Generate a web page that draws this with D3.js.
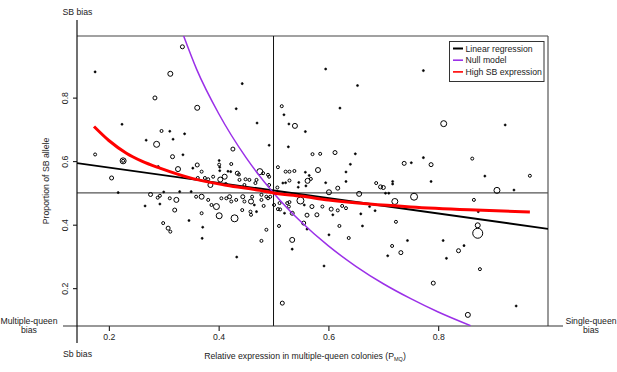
<!DOCTYPE html>
<html>
<head>
<meta charset="utf-8">
<script src="https://cdnjs.cloudflare.com/ajax/libs/d3/7.8.5/d3.min.js"></script>
<style>
  html, body { margin: 0; padding: 0; background: #fff; }
  svg { display: block; font-family: "Liberation Sans", Arial, Helvetica, sans-serif; }
</style>
</head>
<body>
<svg id="chart" width="617" height="372"></svg>
<script>
// ---------- DATA ----------
const xDomain = [0.142, 1.0];
const yDomain = [0.081, 0.994];
const xTicks = [0.2, 0.4, 0.6, 0.8];
const yTicks = [0.2, 0.4, 0.6, 0.8];
const neutralValue = 0.5;

// genes: [relative expression in MQ colonies, proportion of SB allele, relative weight]
const genes = [
  [0.175,0.881,1],[0.312,0.875,4],[0.334,0.960,3],[0.284,0.799,3],[0.361,0.768,4],
  [0.224,0.716,1],[0.296,0.695,2],[0.311,0.694,1],[0.317,0.669,1],[0.338,0.686,1],
  [0.268,0.666,1],[0.287,0.653,5],[0.443,0.844,1],[0.432,0.765,1],[0.470,0.720,1],
  [0.492,0.650,1],[0.426,0.638,3],[0.595,0.890,1],[0.773,0.885,1],[0.653,0.838,1],
  [0.515,0.773,2],[0.519,0.746,1],[0.621,0.767,1],[0.528,0.717,1],[0.539,0.711,4],
  [0.558,0.693,1],[0.810,0.718,5],[0.922,0.714,1],[0.527,0.645,1],[0.571,0.622,2],
  [0.585,0.623,2],[0.612,0.627,3],[0.649,0.623,1],[0.640,0.590,1],[0.738,0.593,3],
  [0.751,0.595,1],[0.773,0.611,1],[0.787,0.589,3],[0.862,0.608,2],[0.508,0.581,2],
  [0.522,0.567,2],[0.529,0.567,2],[0.538,0.569,2],[0.558,0.565,1],[0.565,0.555,1],
  [0.581,0.572,4],[0.632,0.566,1],[0.885,0.553,1],[0.967,0.554,2],[0.907,0.508,5],
  [0.938,0.509,1],[0.517,0.531,1],[0.522,0.532,1],[0.529,0.539,2],[0.546,0.533,1],
  [0.562,0.538,4],[0.568,0.544,2],[0.595,0.532,1],[0.617,0.515,3],[0.632,0.536,1],
  [0.687,0.531,2],[0.695,0.519,3],[0.700,0.517,3],[0.717,0.536,1],[0.717,0.528,1],
  [0.787,0.536,1],[0.704,0.499,1],[0.710,0.499,1],[0.656,0.497,4],[0.756,0.488,6],
  [0.721,0.473,5],[0.865,0.478,2],[0.873,0.441,1],[0.872,0.398,4],[0.872,0.373,9],
  [0.549,0.476,6],[0.529,0.471,2],[0.511,0.468,2],[0.508,0.449,2],[0.512,0.448,2],
  [0.528,0.457,2],[0.534,0.436,3],[0.520,0.436,1],[0.561,0.430,3],[0.579,0.431,3],
  [0.570,0.457,3],[0.589,0.457,2],[0.605,0.449,3],[0.617,0.445,2],[0.608,0.431,1],
  [0.632,0.452,2],[0.659,0.434,1],[0.675,0.457,1],[0.685,0.444,1],[0.723,0.409,2],
  [0.510,0.396,2],[0.555,0.405,3],[0.561,0.386,1],[0.620,0.396,2],[0.662,0.396,1],
  [0.534,0.352,4],[0.534,0.323,1],[0.601,0.368,1],[0.637,0.358,2],[0.744,0.350,1],
  [0.809,0.350,1],[0.847,0.334,1],[0.837,0.318,3],[0.716,0.333,2],[0.732,0.312,3],
  [0.708,0.302,1],[0.815,0.294,1],[0.592,0.270,1],[0.876,0.260,2],[0.791,0.216,3],
  [0.942,0.144,1],[0.854,0.116,4],[0.433,0.298,1],[0.516,0.153,3],
  [0.175,0.621,2],[0.226,0.601,5],[0.226,0.601,2],[0.205,0.547,3],[0.217,0.501,1],
  [0.316,0.614,3],[0.335,0.620,1],[0.290,0.583,1],[0.326,0.575,4],[0.276,0.495,3],
  [0.289,0.485,2],[0.311,0.483,2],[0.323,0.478,4],[0.300,0.503,1],[0.266,0.459,1],
  [0.293,0.465,1],[0.320,0.446,3],[0.299,0.405,2],[0.308,0.389,3],[0.312,0.378,2],
  [0.346,0.413,1],[0.371,0.392,1],[0.370,0.357,1],[0.329,0.504,1],[0.350,0.504,1],
  [0.361,0.588,3],[0.369,0.567,2],[0.353,0.578,1],[0.381,0.543,2],[0.385,0.525,4],
  [0.390,0.551,2],[0.401,0.602,1],[0.401,0.589,2],[0.402,0.570,1],[0.411,0.551,4],
  [0.413,0.528,2],[0.423,0.591,2],[0.422,0.567,1],[0.434,0.562,3],[0.438,0.541,2],
  [0.449,0.543,2],[0.456,0.541,2],[0.469,0.541,2],[0.475,0.567,5],[0.481,0.562,2],
  [0.490,0.557,2],[0.467,0.531,2],[0.447,0.525,2],[0.359,0.488,2],[0.369,0.488,4],
  [0.381,0.478,2],[0.387,0.462,2],[0.396,0.457,5],[0.401,0.428,5],[0.405,0.483,2],
  [0.414,0.483,2],[0.420,0.488,3],[0.423,0.473,2],[0.429,0.420,6],[0.432,0.478,2],
  [0.444,0.488,3],[0.443,0.446,2],[0.447,0.473,2],[0.459,0.473,4],[0.461,0.488,2],
  [0.465,0.462,1],[0.478,0.478,2],[0.478,0.494,2],[0.487,0.488,2],[0.482,0.459,2],
  [0.490,0.483,2],[0.458,0.441,2],[0.469,0.441,1],[0.459,0.431,2],[0.487,0.384,2],
  [0.478,0.349,2],[0.492,0.551,2],[0.492,0.525,2],[0.507,0.517,2],[0.545,0.518,1],
  [0.559,0.522,1],[0.601,0.502,4],[0.494,0.488,2],[0.501,0.462,2],[0.525,0.468,2],
  [0.556,0.462,1],[0.625,0.459,2],[0.362,0.547,2],[0.375,0.547,2],[0.403,0.542,4],
  [0.437,0.558,2],[0.417,0.568,1],[0.402,0.581,1],[0.369,0.436,2],[0.293,0.491,2]
];

// Linear regression (read at the plot edges)
const regX = [0.142, 1.0];
const regY = [0.594, 0.387];

// Null model curve
const nullX = [0.335, 0.36, 0.4, 0.45, 0.5, 0.55, 0.6, 0.65, 0.7, 0.75, 0.8, 0.859];
const nullY = [1.0, 0.889, 0.75, 0.611, 0.5, 0.409, 0.333, 0.269, 0.214, 0.167, 0.125, 0.082];

// High SB expression curve
const highX = [0.173, 0.2, 0.232, 0.26, 0.293, 0.353, 0.414, 0.475, 0.5, 0.55, 0.6, 0.675, 0.75, 0.856, 0.967];
const highY = [0.709, 0.665, 0.625, 0.600, 0.578, 0.545, 0.524, 0.508, 0.500, 0.490, 0.478, 0.465, 0.456, 0.447, 0.440];

const legendItems = ["Linear regression", "Null model", "High SB expression"];
const legendColors = ["#000000", "#9b30e8", "#ff0000"];

// ---------- DRAW ----------
const svg = d3.select("#chart");
const pL = 77, pR = 548, pT = 36, pB = 326;
const x = d3.scaleLinear().domain(xDomain).range([pL, pR]);
const y = d3.scaleLinear().domain(yDomain).range([pB, pT]);
const rScale = d3.scaleLinear().domain([1, 10]).range([1, 5.5]);
const fs = 8.7;

svg.append("defs").append("clipPath").attr("id", "clip")
  .append("rect").attr("x", pL).attr("y", pT).attr("width", pR - pL).attr("height", pB - pT);

// frame lines
svg.append("line").attr("x1", pL).attr("x2", pR).attr("y1", pT).attr("y2", pT)
  .attr("stroke", "#444").attr("stroke-width", 1.2);
svg.append("line").attr("x1", pR).attr("x2", pR).attr("y1", pT).attr("y2", pB)
  .attr("stroke", "#555").attr("stroke-width", 1.2);
// neutral lines
svg.append("line").attr("x1", pL).attr("x2", pR).attr("y1", y(neutralValue)).attr("y2", y(neutralValue))
  .attr("stroke", "#555").attr("stroke-width", 1.2);
svg.append("line").attr("x1", x(neutralValue)).attr("x2", x(neutralValue)).attr("y1", pT).attr("y2", pB)
  .attr("stroke", "#111").attr("stroke-width", 1);

// axes
const xAxis = svg.append("g").attr("transform", `translate(0,${pB})`)
  .call(d3.axisBottom(x).tickValues(xTicks).tickSize(5).tickPadding(3).tickFormat(d3.format(".1f")));
xAxis.select(".domain").remove();
xAxis.selectAll("text").attr("font-size", fs).attr("fill", "#222").attr("font-family", "Liberation Sans, Arial, sans-serif");
svg.append("line").attr("x1", 63).attr("x2", 563).attr("y1", pB).attr("y2", pB)
  .attr("stroke", "#333").attr("stroke-width", 1.2);

const yAxis = svg.append("g").attr("transform", `translate(${pL},0)`)
  .call(d3.axisLeft(y).tickValues(yTicks).tickSize(4).tickFormat(d3.format(".1f")));
yAxis.select(".domain").remove();
yAxis.selectAll("text").attr("font-size", fs).attr("fill", "#222")
  .attr("font-family", "Liberation Sans, Arial, sans-serif")
  .attr("x", null).attr("dy", null).attr("text-anchor", "middle")
  .attr("transform", "translate(-9,0) rotate(-90)");
svg.append("line").attr("x1", pL).attr("x2", pL).attr("y1", 20).attr("y2", 343)
  .attr("stroke", "#111").attr("stroke-width", 1.2);

// points
svg.append("g").selectAll("circle").data(genes).join("circle")
  .attr("cx", d => x(d[0])).attr("cy", d => y(d[1]))
  .attr("r", d => d[2] === 1 ? 1.05 : rScale(d[2]))
  .attr("fill", d => d[2] === 1 ? "#000" : "none")
  .attr("stroke", "#000").attr("stroke-width", d => d[2] === 1 ? 0.6 : 1);

const plot = svg.append("g").attr("clip-path", "url(#clip)");
// regression
plot.append("path").datum(d3.zip(regX, regY))
  .attr("d", d3.line().x(d => x(d[0])).y(d => y(d[1])))
  .attr("fill", "none").attr("stroke", legendColors[0]).attr("stroke-width", 1.8);
// null model
plot.append("path").datum(d3.zip(nullX, nullY))
  .attr("d", d3.line().x(d => x(d[0])).y(d => y(d[1])).curve(d3.curveMonotoneX))
  .attr("fill", "none").attr("stroke", legendColors[1]).attr("stroke-width", 1.5);
// high SB expression
plot.append("path").datum(d3.zip(highX, highY))
  .attr("d", d3.line().x(d => x(d[0])).y(d => y(d[1])).curve(d3.curveMonotoneX))
  .attr("fill", "none").attr("stroke", legendColors[2]).attr("stroke-width", 3);

// legend
const lg = svg.append("g");
lg.append("rect").attr("x", 449.5).attr("y", 41.5).attr("width", 94.5).attr("height", 40)
  .attr("fill", "#fff").attr("stroke", "#333").attr("stroke-width", 1);
legendItems.forEach((t, i) => {
  const cy = 48.5 + i * 11.7;
  lg.append("line").attr("x1", 453).attr("x2", 463).attr("y1", cy).attr("y2", cy)
    .attr("stroke", legendColors[i]).attr("stroke-width", i === 0 ? 2 : 1.6);
  lg.append("text").attr("x", 465.5).attr("y", cy).attr("dy", "0.35em")
    .attr("font-size", fs).attr("fill", "#222").text(t);
});

// annotation texts
const txt = (xx, yy, s, anchor = "middle") => svg.append("text").attr("x", xx).attr("y", yy)
  .attr("dy", "0.35em").attr("text-anchor", anchor).attr("font-size", fs).attr("fill", "#222").text(s);
txt(77.5, 11.5, "SB bias");
txt(77.5, 354, "Sb bias");
txt(29, 321, "Multiple-queen");
txt(29, 330, "bias");
txt(591, 321, "Single-queen");
txt(591, 330, "bias");

const xt = svg.append("text").attr("x", 305).attr("y", 356).attr("dy", "0.35em")
  .attr("text-anchor", "middle").attr("font-size", fs).attr("fill", "#222");
xt.append("tspan").text("Relative expression in multiple-queen colonies (P");
xt.append("tspan").attr("font-size", 5.5).attr("dy", "1.5").text("MQ");
xt.append("tspan").attr("dy", "-1.5").text(")");

svg.append("text").attr("transform", "translate(46,181) rotate(-90)").attr("dy", "0.35em")
  .attr("text-anchor", "middle").attr("font-size", fs).attr("fill", "#222").text("Proportion of SB allele");
</script>
</body>
</html>
